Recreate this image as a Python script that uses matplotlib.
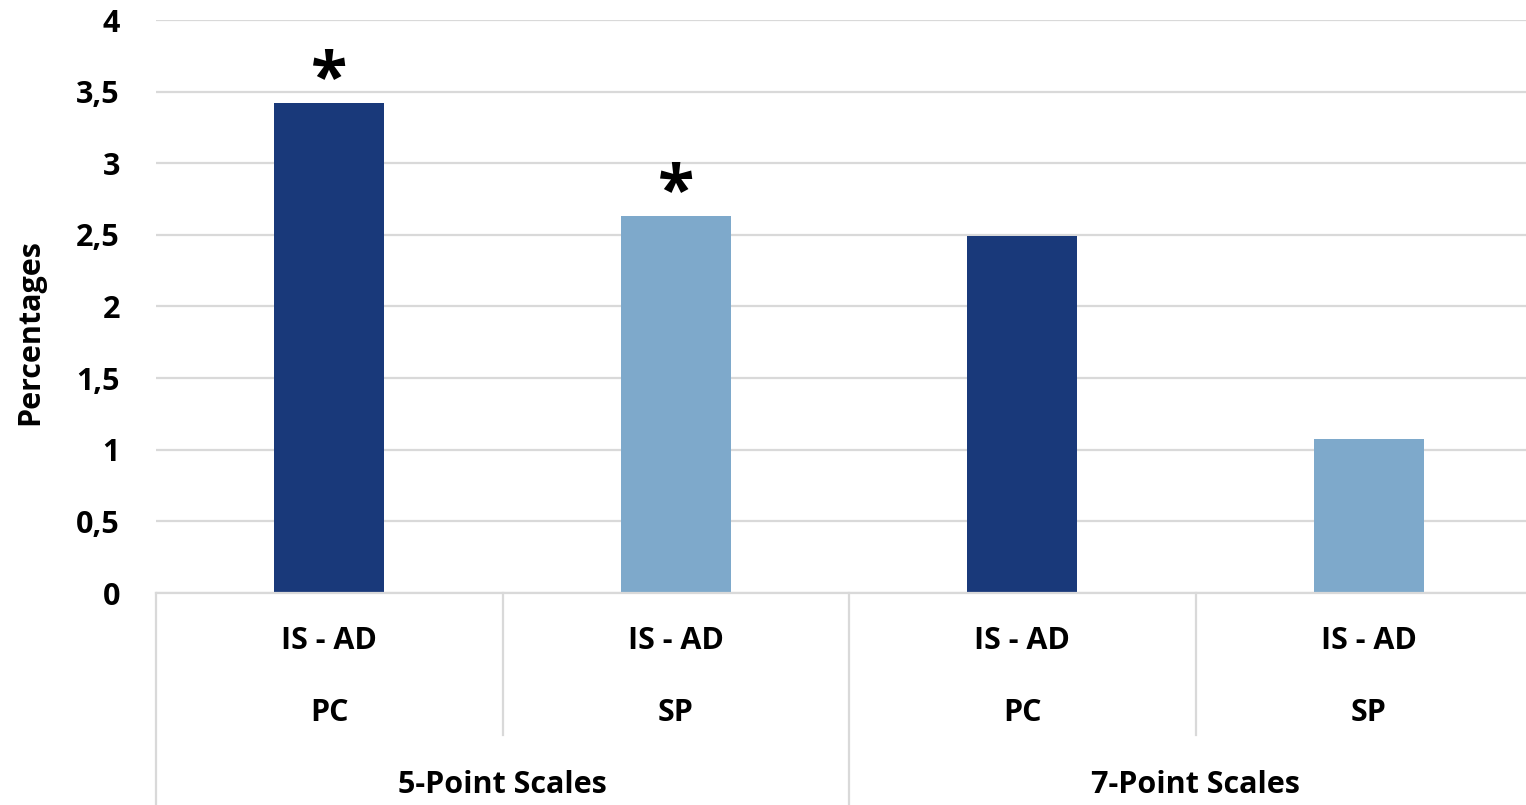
import matplotlib
matplotlib.use("Agg")
import matplotlib.pyplot as plt
from matplotlib.lines import Line2D

plt.rcParams['font.family'] = ['Open Sans', 'DejaVu Sans']

categories = ["IS - AD", "IS - AD", "IS - AD", "IS - AD"]
subgroups = ["PC", "SP", "PC", "SP"]
groups = ["5-Point Scales", "7-Point Scales"]
values = [3.42, 2.63, 2.49, 1.075]
significant = [True, True, False, False]
yticks = [0, 0.5, 1, 1.5, 2, 2.5, 3, 3.5, 4]
ytick_labels = ["0", "0,5", "1", "1,5", "2", "2,5", "3", "3,5", "4"]

dark = "#19397A"
light = "#7EA9CB"
colors = [dark, light, dark, light]

FS = 22
W, H = 1526, 805
fig = plt.figure(figsize=(W / 100, H / 100), dpi=100)
x0, x1, y0, y1 = 156, 1542, 593, 20
ax = fig.add_axes([x0 / W, 1 - y0 / H, (x1 - x0) / W, (y0 - y1) / H])

xs = [i + 0.5 for i in range(len(values))]
ax.bar(xs, values, width=0.318, color=colors, zorder=3)
ax.set_xlim(0, len(values))
ax.set_ylim(0, 4)
ax.set_yticks(yticks)
ax.set_yticklabels(ytick_labels, fontsize=FS, fontweight='bold')
ax.tick_params(axis='y', length=0, pad=26)
ax.set_xticks([])
ax.grid(axis='y', color='#d9d9d9', linewidth=1.6, zorder=0)
for s in ax.spines.values():
    s.set_visible(False)

for x, v, sig in zip(xs, values, significant):
    if sig:
        ax.text(x, v + 0.15, "*", ha='center', va='center', fontsize=48,
                fontweight='bold', color='black')

def fy(py):
    return 1 - py / H

cw = (x1 - x0) / len(values)
for x, c, s in zip(xs, categories, subgroups):
    px = x0 + x * cw
    fig.text(px / W, fy(641), c, ha='center', va='center', fontsize=FS, fontweight='bold')
    fig.text(px / W, fy(713), s, ha='center', va='center', fontsize=FS, fontweight='bold')

for gi, g in enumerate(groups):
    px = x0 + (2 * gi + 1) * cw
    fig.text(px / W, fy(785), g, ha='center', va='center', fontsize=FS, fontweight='bold')

sep_color = '#d9d9d9'
fig.add_artist(Line2D([x0 / W, 1], [fy(593), fy(593)], color=sep_color, lw=1.6))
for i in range(len(values)):
    px = x0 + i * cw
    bottom = 805 if i % 2 == 0 else 735
    fig.add_artist(Line2D([px / W, px / W], [fy(593), fy(bottom)], color=sep_color, lw=1.6))

fig.text(30 / W, fy(332), "Percentages", rotation=90, ha='center', va='center',
         fontsize=FS, fontweight='bold')

fig.savefig("out.png", dpi=100)
